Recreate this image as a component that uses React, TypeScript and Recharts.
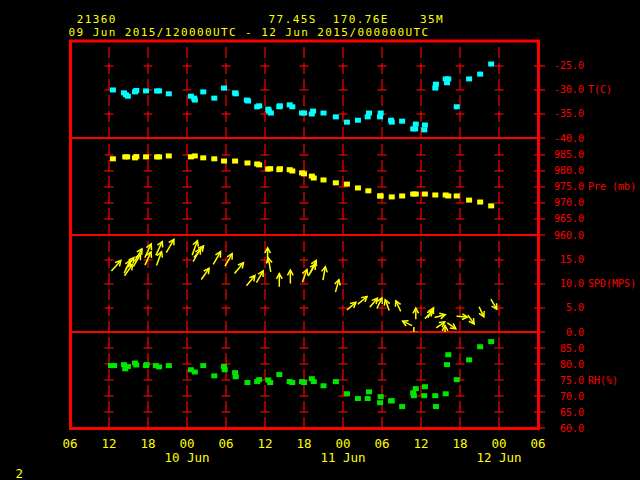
import React from 'react';
import { ScatterChart, Scatter, XAxis, YAxis, ReferenceLine, ReferenceDot } from 'recharts';

const FONT = '"DejaVu Sans Mono", monospace';
const RED = '#ff0000';
const YEL = '#ffff00';
const CYAN = '#00ffff';
const GREEN = '#00e600';

// ---- header / footer text ----
const titleStation = '21360';
const titleLat = '77.45S';
const titleLon = '170.76E';
const titleElev = '35M';
const titleRange = '09 Jun 2015/120000UTC - 12 Jun 2015/000000UTC';
const footerText = '2';

// ---- x axis (hours since 09 Jun 06UTC) ----
const xTicks = [0, 6, 12, 18, 24, 30, 36, 42, 48, 54, 60, 66, 72];
const xTickLabels = ['06', '12', '18', '00', '06', '12', '18', '00', '06', '12', '18', '00', '06'];
const dateTicks = [18, 42, 66];
const dateLabels = ['10 Jun', '11 Jun', '12 Jun'];
const gridHours = [6, 12, 18, 24, 30, 36, 42, 48, 54, 60, 66];

// ---- temperature ----
const tHours = [6.6, 8.3, 8.6, 8.9, 10.0, 10.2, 11.7, 13.4, 13.7, 15.2, 18.6, 19.1, 19.2, 20.5, 22.2, 23.7, 25.4, 25.5, 27.2, 27.4, 28.8, 29.1, 30.5, 30.6, 30.9, 32.2, 32.3, 33.8, 34.2, 35.7, 36.0, 37.2, 37.4, 39.0, 40.9, 42.6, 44.3, 45.8, 46.0, 47.7, 47.8, 49.4, 49.5, 51.1, 52.8, 53.1, 53.2, 54.5, 54.6, 56.2, 56.3, 57.8, 58.2, 58.0, 59.5, 61.4, 63.1, 64.8];
const tVals = [-30.0, -30.6, -31.0, -31.3, -30.4, -30.1, -30.2, -30.2, -30.2, -30.8, -31.3, -31.7, -32.1, -30.4, -31.7, -29.6, -30.6, -30.8, -32.1, -32.3, -33.5, -33.3, -34.0, -34.4, -34.8, -33.5, -33.3, -33.1, -33.5, -34.8, -34.8, -35.0, -34.4, -34.8, -35.6, -36.7, -36.3, -35.6, -34.8, -35.6, -34.8, -36.3, -36.7, -36.5, -38.1, -38.1, -37.1, -38.3, -37.3, -29.6, -28.8, -27.7, -27.7, -28.5, -33.5, -27.7, -26.7, -24.6];
const tTicks = [-40, -35, -30, -25];

// ---- pressure ----
const pHours = [6.6, 8.5, 8.8, 10.0, 10.2, 11.7, 13.4, 13.7, 15.2, 18.6, 19.2, 20.5, 22.2, 23.7, 25.4, 27.3, 28.8, 29.1, 30.5, 30.8, 32.2, 32.3, 33.8, 34.2, 35.7, 36.0, 37.2, 37.5, 39.0, 40.9, 42.6, 44.3, 45.9, 47.7, 47.8, 49.5, 51.1, 52.8, 53.2, 54.6, 56.2, 57.8, 58.2, 59.5, 61.4, 63.1, 64.8];
const pVals = [983.8, 984.4, 984.4, 984.1, 984.5, 984.4, 984.4, 984.4, 984.7, 984.4, 984.7, 984.1, 983.8, 983.1, 983.1, 982.5, 982.2, 981.9, 980.6, 980.7, 980.4, 980.7, 980.4, 980.0, 979.4, 979.1, 978.4, 977.8, 977.2, 976.3, 975.9, 974.7, 973.8, 972.2, 972.2, 971.9, 972.2, 972.8, 972.8, 972.8, 972.5, 972.5, 972.2, 972.2, 970.9, 970.3, 969.1];
const pTicks = [960, 965, 970, 975, 980, 985];

// ---- wind ----
const wHours = [7.1, 8.8, 9.0, 9.2, 10.5, 10.3, 12.0, 12.0, 13.7, 13.7, 15.4, 19.2, 19.8, 19.5, 20.8, 22.6, 24.4, 26.0, 27.8, 29.2, 30.4, 30.7, 32.2, 33.9, 36.1, 37.4, 37.2, 39.1, 41.1, 43.3, 45.0, 46.7, 47.6, 48.8, 50.5, 51.9, 52.9, 53.2, 55.2, 55.5, 56.9, 57.0, 57.7, 58.7, 60.3, 61.7, 63.3, 65.2];
const wSpd = [13.8, 13.6, 12.9, 14.3, 16.0, 14.9, 16.9, 15.3, 17.4, 15.3, 17.9, 17.5, 16.7, 16.0, 12.1, 15.4, 15.0, 13.3, 10.7, 11.5, 16.0, 14.0, 10.8, 11.5, 11.7, 13.6, 12.9, 12.2, 9.6, 5.4, 6.6, 6.1, 6.0, 5.6, 5.4, 1.8, 0.0, 3.8, 3.6, 4.0, 3.3, 1.5, 0.3, 1.3, 3.2, 2.6, 4.2, 5.8];
const wDir = [48, 65, 55, 55, 60, 60, 65, 65, 65, 70, 60, 70, 50, 60, 55, 60, 60, 50, 50, 60, 90, 100, 90, 90, 70, 65, 60, 80, 75, 40, 40, 50, 65, 110, 115, 155, 270, 90, 45, 60, 15, 35, 90, -35, -5, -55, -65, -60];
const sTicks = [0, 5, 10, 15];

// ---- relative humidity ----
const rhHours = [6.3, 6.8, 8.3, 8.5, 8.9, 10.0, 10.2, 11.7, 11.8, 13.2, 13.7, 15.2, 18.6, 19.2, 20.5, 22.2, 23.7, 23.8, 25.4, 25.5, 27.3, 28.8, 29.1, 30.5, 30.8, 32.2, 33.8, 34.2, 35.7, 36.0, 37.2, 37.5, 39.0, 40.9, 42.6, 44.3, 45.8, 46.0, 47.7, 47.8, 49.4, 49.5, 51.1, 52.8, 52.9, 53.2, 54.5, 54.6, 56.2, 56.3, 57.8, 58.0, 58.2, 59.5, 61.4, 63.1, 64.8];
const rhVals = [79.5, 79.5, 79.8, 78.5, 79.2, 80.3, 79.7, 79.5, 79.8, 79.5, 79.1, 79.5, 78.2, 77.5, 79.5, 76.3, 79.2, 78.2, 77.3, 76.0, 74.2, 74.5, 75.1, 75.0, 74.2, 76.7, 74.5, 74.2, 74.5, 74.2, 75.4, 74.5, 73.2, 74.5, 70.7, 69.2, 69.2, 71.3, 67.9, 69.8, 68.5, 68.5, 66.7, 71.0, 70.1, 72.3, 70.1, 72.9, 70.1, 66.7, 70.7, 79.8, 82.9, 75.1, 81.3, 85.4, 87.0];
const rhTicks = [60, 65, 70, 75, 80, 85];

const tData = tHours.map((h, i) => ({ h, v: tVals[i] }));
const pData = pHours.map((h, i) => ({ h, v: pVals[i] }));
const wData = wHours.map((h, i) => ({ h, v: wSpd[i], dir: wDir[i] }));
const rhData = rhHours.map((h, i) => ({ h, v: rhVals[i] }));

const squareShape = (color: string) => (props: any) => {
  const { cx, cy } = props;
  return <rect x={cx - 3} y={cy - 2.5} width={6} height={5} fill={color} />;
};

const arrowShape = (props: any) => {
  const { cx, cy, payload } = props;
  const a = (payload.dir * Math.PI) / 180;
  const L = 10 + 0.3 * payload.v;
  const ux = Math.cos(a);
  const uy = -Math.sin(a);
  const x1 = cx - (ux * L) / 2;
  const y1 = cy - (uy * L) / 2;
  const x2 = cx + (ux * L) / 2;
  const y2 = cy + (uy * L) / 2;
  const hl = 6;
  const b1 = a + Math.PI - 0.5;
  const b2 = a + Math.PI + 0.5;
  const hx1 = x2 + Math.cos(b1) * hl;
  const hy1 = y2 - Math.sin(b1) * hl;
  const hx2 = x2 + Math.cos(b2) * hl;
  const hy2 = y2 - Math.sin(b2) * hl;
  return (
    <g stroke={YEL} strokeWidth={1.5} fill="none">
      <line x1={x1} y1={y1} x2={x2} y2={y2} />
      <polyline points={`${hx1},${hy1} ${x2},${y2} ${hx2},${hy2}`} />
    </g>
  );
};

const crossShape = (props: any) => {
  const { cx, cy } = props;
  return <line x1={cx - 4.5} x2={cx + 4.5} y1={cy} y2={cy} stroke={RED} strokeWidth={1.2} />;
};
const edgeShape = (props: any) => {
  const { cx, cy } = props;
  return <line x1={cx - 4} x2={cx} y1={cy} y2={cy} stroke={RED} strokeWidth={1.2} />;
};

const makeYTick = (label: string, labelTick: number) => (props: any) => {
  const { y, payload } = props;
  return (
    <g>
      <text x={584} y={y} dy={3.5} textAnchor="end" fill={RED} fontSize={10} fontFamily={FONT}>
        {Number(payload.value).toFixed(1)}
      </text>
      {payload.value === labelTick && (
        <text x={588} y={y} dy={3.5} fill={RED} fontSize={10} fontFamily={FONT}>
          {label}
        </text>
      )}
    </g>
  );
};

const XTick = (props: any) => {
  const { x, payload } = props;
  const i = xTicks.indexOf(payload.value);
  const d = dateTicks.indexOf(payload.value);
  return (
    <g>
      <text x={x} y={115.5} textAnchor="middle" fill={YEL} fontSize={12.5} fontFamily={FONT}>
        {xTickLabels[i]}
      </text>
      {d >= 0 && (
        <text x={x} y={129.5} textAnchor="middle" fill={YEL} fontSize={12.5} fontFamily={FONT}>
          {dateLabels[d]}
        </text>
      )}
    </g>
  );
};

type PanelProps = {
  top: number;
  height: number;
  plotHeight: number;
  data: any[];
  domain: [number, number];
  ticks: number[];
  innerTicks: number[];
  label: string;
  labelTick: number;
  shape: any;
  showX?: boolean;
  bottomLine?: number;
};

const Panel = (p: PanelProps) => (
  <div style={{ position: 'absolute', left: 0, top: p.top }}>
    <ScatterChart width={640} height={p.height} margin={{ top: 0, right: 0, bottom: 0, left: 70 }} style={{ overflow: 'visible' }}>
      <XAxis
        type="number"
        dataKey="h"
        domain={[0, 72]}
        ticks={xTicks}
        interval={0}
        hide={!p.showX}
        height={p.showX ? p.height - p.plotHeight : 0}
        axisLine={false}
        tickLine={false}
        tick={p.showX ? XTick : false}
        allowDataOverflow
      />
      <YAxis
        type="number"
        dataKey="v"
        orientation="right"
        domain={p.domain}
        ticks={p.ticks}
        interval={0}
        width={102}
        axisLine={false}
        tickLine={{ stroke: RED, strokeWidth: 1.2 }}
        tickSize={7}
        tick={makeYTick(p.label, p.labelTick)}
        allowDataOverflow
      />
      {gridHours.map((h) => (
        <ReferenceLine key={'v' + h} x={h} stroke={RED} strokeWidth={1.2} strokeDasharray="11 5" />
      ))}
      {gridHours.map((h) =>
        p.innerTicks.map((t) => <ReferenceDot key={`c${h}_${t}`} x={h} y={t} r={0} shape={crossShape} />)
      )}
      {p.innerTicks.map((t) => (
        <ReferenceDot key={`e${t}`} x={72} y={t} r={0} shape={edgeShape} />
      ))}
      {p.bottomLine !== undefined && (
        <ReferenceLine y={p.bottomLine} stroke={RED} strokeWidth={2} />
      )}
      <Scatter data={p.data} shape={p.shape} isAnimationActive={false} />
    </ScatterChart>
  </div>
);

export default function App() {
  return (
    <div style={{ position: 'absolute', left: 0, top: 0, width: 640, height: 480, background: '#000', overflow: 'hidden' }}>
      <style>{`.recharts-surface, .recharts-wrapper { overflow: visible !important; }`}</style>
      <Panel
        top={40}
        height={98}
        plotHeight={98}
        data={tData}
        domain={[-40, -19.6]}
        ticks={tTicks}
        innerTicks={[-35, -30, -25]}
        label="T(C)"
        labelTick={-30}
        shape={squareShape(CYAN)}
        bottomLine={-40}
      />
      <Panel
        top={138}
        height={97}
        plotHeight={97}
        data={pData}
        domain={[960, 990.3]}
        ticks={pTicks}
        innerTicks={[965, 970, 975, 980, 985]}
        label="Pre (mb)"
        labelTick={975}
        shape={squareShape(YEL)}
        bottomLine={960}
      />
      <Panel
        top={235}
        height={97}
        plotHeight={97}
        data={wData}
        domain={[0, 20.2]}
        ticks={sTicks}
        innerTicks={[5, 10, 15]}
        label="SPD(MPS)"
        labelTick={10}
        shape={arrowShape}
        bottomLine={0}
      />
      <Panel
        top={332}
        height={146}
        plotHeight={96}
        data={rhData}
        domain={[60, 90]}
        ticks={rhTicks}
        innerTicks={[65, 70, 75, 80, 85]}
        label="RH(%)"
        labelTick={75}
        shape={squareShape(GREEN)}
        showX
      />
      <svg width={640} height={480} style={{ position: 'absolute', left: 0, top: 0, pointerEvents: 'none' }}>
        <rect x={70.5} y={41} width={468} height={387.5} fill="none" stroke={RED} strokeWidth={3} />
        <g fill={YEL} fontFamily={FONT} fontSize={11} letterSpacing={1.4}>
          <text x={76.7} y={22.5}>{titleStation}</text>
          <text x={268.6} y={22.5}>{titleLat}</text>
          <text x={332.7} y={22.5}>{titleLon}</text>
          <text x={420} y={22.5}>{titleElev}</text>
          <text x={68.6} y={36}>{titleRange}</text>
        </g>
        <text x={15.5} y={478} fill={YEL} fontFamily={FONT} fontSize={12.5}>{footerText}</text>
      </svg>
    </div>
  );
}
